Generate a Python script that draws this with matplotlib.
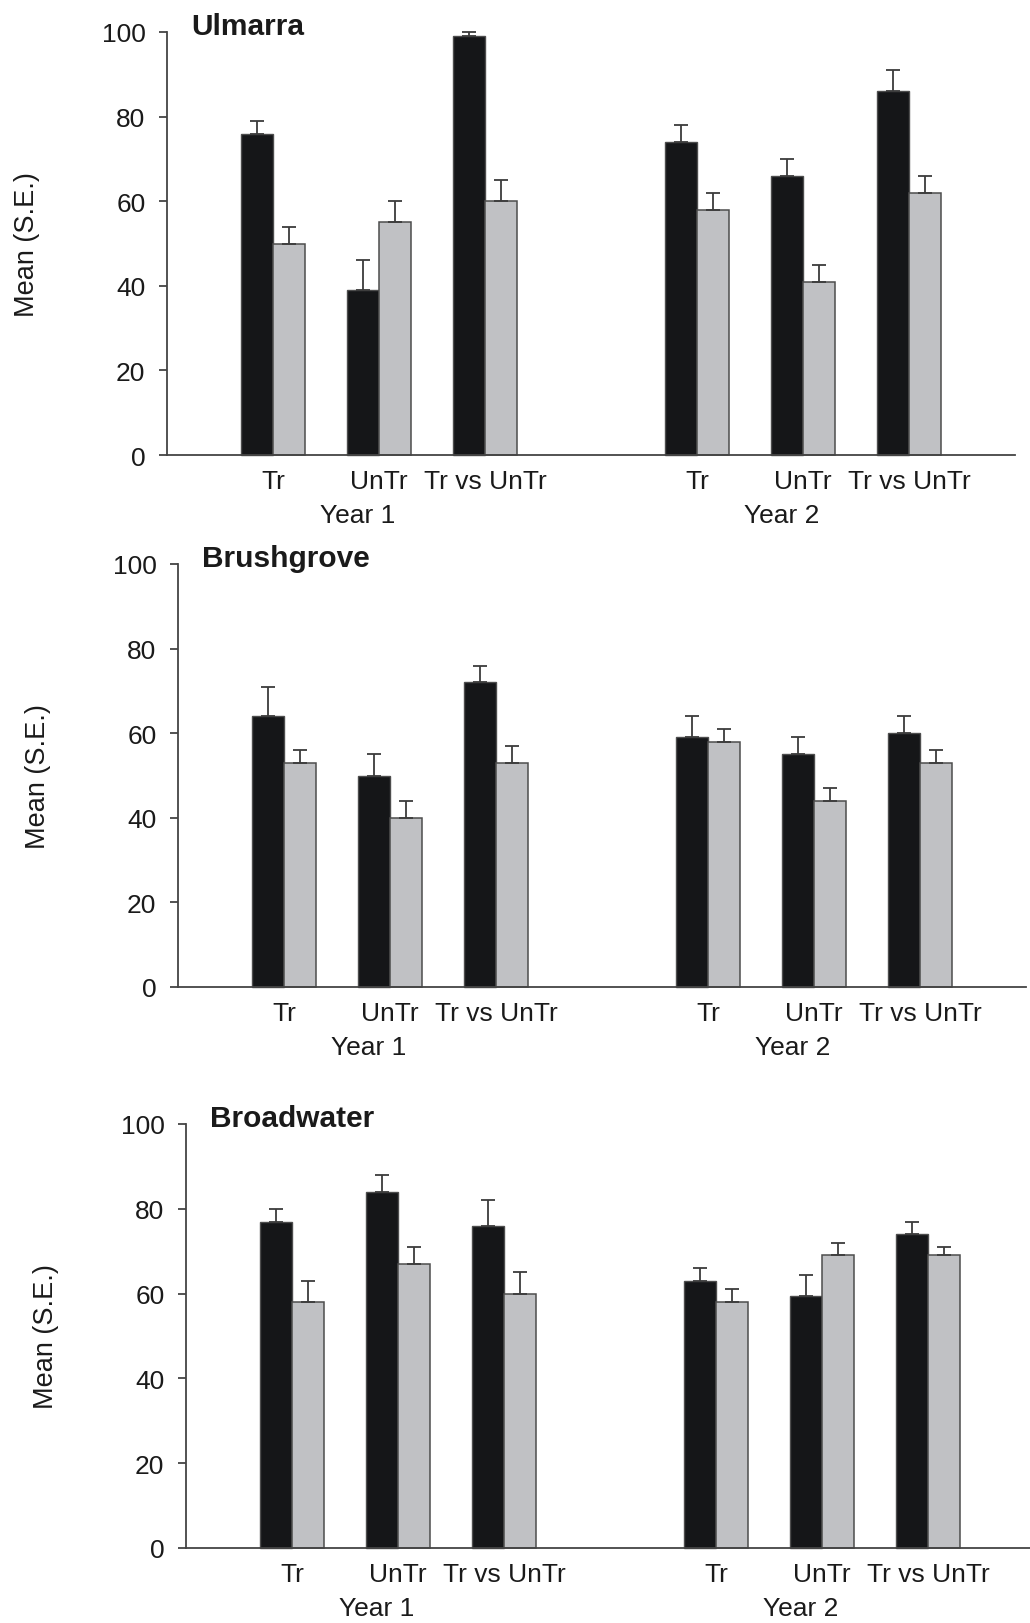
import matplotlib
matplotlib.use('Agg')
import matplotlib.pyplot as plt
import numpy as np

# values (black = first series, grey = second series)
sites = ['Ulmarra', 'Brushgrove', 'Broadwater']
categories = ['Tr', 'UnTr', 'Tr vs UnTr', 'Tr', 'UnTr', 'Tr vs UnTr']
years = ['Year 1', 'Year 2']

ulmarra_black = [76, 39, 99, 74, 66, 86]
ulmarra_black_se = [3, 7, 1, 4, 4, 5]
ulmarra_grey = [50, 55, 60, 58, 41, 62]
ulmarra_grey_se = [4, 5, 5, 4, 4, 4]

brushgrove_black = [64, 50, 72, 59, 55, 60]
brushgrove_black_se = [7, 5, 4, 5, 4, 4]
brushgrove_grey = [53, 40, 53, 58, 44, 53]
brushgrove_grey_se = [3, 4, 4, 3, 3, 3]

broadwater_black = [77, 84, 76, 63, 59.5, 74]
broadwater_black_se = [3, 4, 6, 3, 5, 3]
broadwater_grey = [58, 67, 60, 58, 69, 69]
broadwater_grey_se = [5, 4, 5, 3, 3, 2]

plt.rcParams['font.family'] = ['Liberation Sans', 'DejaVu Sans']

W, H = 1030, 1624
fig = plt.figure(figsize=(W / 100, H / 100), dpi=100)

# panel placement in pixels: left edge, y of zero line, y of 100 line
panels = [(167, 456, 33), (178, 988, 565), (186, 1549, 1125)]
ax_w = 848

data = [
    (ulmarra_black, ulmarra_black_se, ulmarra_grey, ulmarra_grey_se),
    (brushgrove_black, brushgrove_black_se, brushgrove_grey, brushgrove_grey_se),
    (broadwater_black, broadwater_black_se, broadwater_grey, broadwater_grey_se),
]

black_col = '#151618'
grey_col = '#c0c1c4'
edge_col = '#4d4d4d'
text_col = '#1a1a1a'

x = np.r_[0:3, 4:7]
bw = 0.30

for site, (left, y0, y100), (blk, blk_se, gry, gry_se) in zip(sites, panels, data):
    ax = fig.add_axes([left / W, 1 - y0 / H, ax_w / W, (y0 - y100) / H])

    ax.bar(x - bw / 2, blk, bw, color=black_col, edgecolor=edge_col, linewidth=1.0, clip_on=False)
    ax.bar(x + bw / 2, gry, bw, color=grey_col, edgecolor=edge_col, linewidth=1.1, clip_on=False)
    for xs, vals, se in [(x - bw / 2, blk, blk_se), (x + bw / 2, gry, gry_se)]:
        eb = ax.errorbar(xs, vals, yerr=[np.zeros(len(se)), se], fmt='none',
                         ecolor='#3c3c3c', elinewidth=1.3, capsize=4.7, capthick=1.3)
        for art in eb.lines[1] + eb.lines[2]:
            art.set_clip_on(False)

    ax.set_xlim(-1, 7)
    ax.set_ylim(0, 100)
    ax.set_yticks([0, 20, 40, 60, 80, 100])
    ax.set_xticks(x)
    ax.set_xticklabels(categories)

    for s in ['top', 'right']:
        ax.spines[s].set_visible(False)
    for s in ['left', 'bottom']:
        ax.spines[s].set_color('#444444')
        ax.spines[s].set_linewidth(1.3)

    ax.tick_params(axis='y', direction='out', length=5.5, width=1.3, color='#444444',
                   labelsize=19, labelcolor=text_col, pad=10)
    ax.tick_params(axis='x', length=0, labelsize=19, labelcolor=text_col, pad=10)

    ax.set_ylabel('Mean (S.E.)', fontsize=19.5, color=text_col)
    ax.yaxis.set_label_coords(-0.15, 0.5)

    for i, yr in enumerate(years):
        ax.text(x[3 * i + 1] - 0.2, -60 / 424, yr, transform=ax.get_xaxis_transform(),
                ha='center', va='center', fontsize=19, color=text_col)

    ax.text(24 / ax_w, 1.014, site, transform=ax.transAxes, ha='left', va='center',
            fontsize=21.5, fontweight='bold', color=text_col)

fig.savefig('out.png', dpi=100)
